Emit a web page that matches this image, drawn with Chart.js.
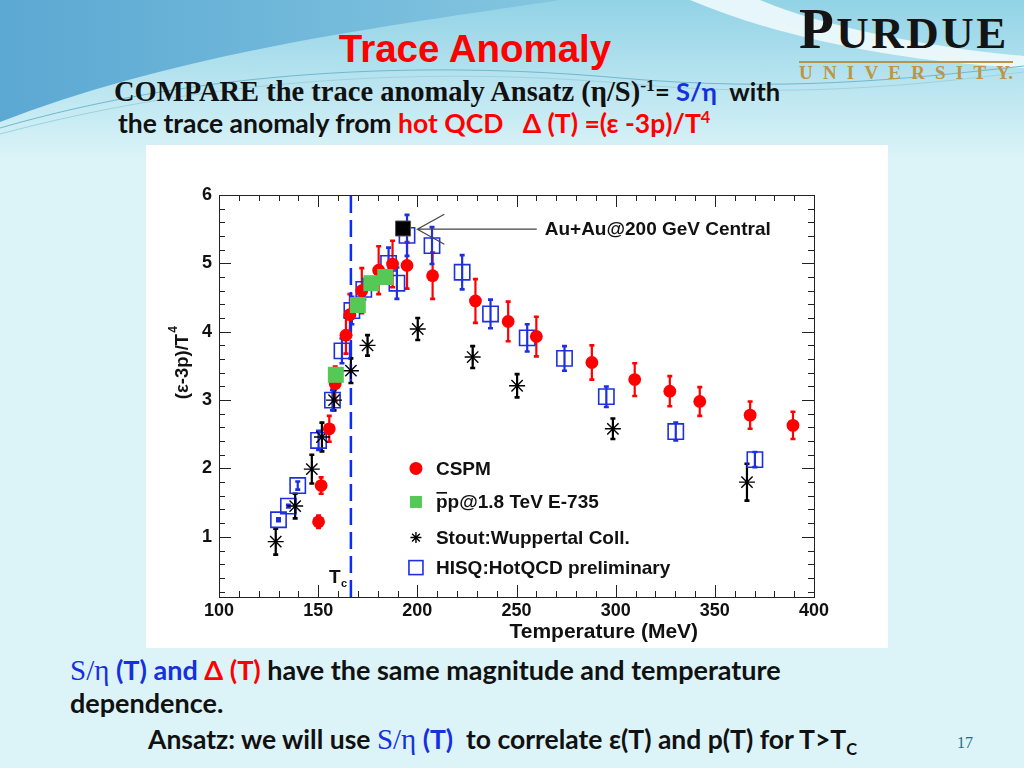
<!DOCTYPE html>
<html>
<head>
<meta charset="utf-8">
<script src="https://cdn.jsdelivr.net/npm/chart.js@4.4.1/dist/chart.umd.min.js"></script>
<style>
    body { margin: 0; width: 1024px; height: 768px; overflow: hidden; position: relative; background: #dcf4f8; }
    .bg { position: absolute; left: 0; top: 0; }
    .txt { position: absolute; white-space: nowrap; line-height: 1; }
    .cal { font-family: 'Lato', 'Open Sans', sans-serif; font-weight: bold; }
    .ser { font-family: 'Liberation Serif', 'DejaVu Serif', serif; }
    .blue { color: #1530e0; }
    .red { color: #ff0000; }
    sup, sub { font-size: 62%; line-height: 0; }
    #panel { position: absolute; left: 146px; top: 145px; width: 742px; height: 503px; background: #fff; }
    #logo { position: absolute; left: 799px; top: 6px; width: 214px; }
</style>
</head>
<body>
<svg class="bg" width="1024" height="768">
    <defs>
        <linearGradient id="topFade" x1="0" y1="0" x2="0" y2="1">
            <stop offset="0" stop-color="#92d3e6"/>
            <stop offset="1" stop-color="#dcf4f8"/>
        </linearGradient>
        <linearGradient id="blueBand" x1="0" y1="0" x2="1" y2="0">
            <stop offset="0" stop-color="#5ba8d3"/>
            <stop offset="1" stop-color="#84c6e0"/>
        </linearGradient>
    </defs>
    <rect width="1024" height="160" fill="url(#topFade)"/>
    <path d="M0,0 L560,0 C420,22 190,48 0,122 Z" fill="url(#blueBand)"/>
    <path d="M690,0 C780,38 900,62 1024,68 L1024,56 C930,48 820,26 760,0 Z" fill="#f4fbfd" opacity="0.85"/>
    <path d="M0,128 C200,70 420,60 620,78 C780,92 900,80 1024,66" fill="none" stroke="#6fb9cf" stroke-width="1"/>
    <path d="M0,134 C210,78 430,66 630,84 C790,98 910,86 1024,72" fill="none" stroke="#9ed2e0" stroke-width="1"/>
</svg>

<div class="txt" style="left:0;width:950px;text-align:center;top:27px;font:bold 38.5px 'Liberation Sans', Arial, sans-serif;color:#ff0000;">Trace Anomaly</div>

<div id="logo">
    <div class="ser" style="font-size:57px;line-height:46px;letter-spacing:2.5px;font-weight:bold;color:#141414;">P<span style="font-size:45px;">URDUE</span></div>
    <div style="height:2px;background:#b8944a;margin-top:5px;"></div>
    <div class="ser" style="display:flex;justify-content:space-between;font-weight:bold;font-size:19px;line-height:1;color:#bf9544;margin-top:0;">
        <span>U</span><span>N</span><span>I</span><span>V</span><span>E</span><span>R</span><span>S</span><span>I</span><span>T</span><span>Y.</span>
    </div>
</div>

<div class="txt ser" style="left:114px;top:78px;font-size:28.5px;font-weight:bold;color:#111;">COMPARE the trace anomaly Ansatz (η/S)<sup>-1</sup><span class="cal" style="font-size:25.5px;">= <span class="blue">S/η</span>&nbsp; with</span></div>
<div class="txt cal" style="left:118px;top:110px;font-size:26.5px;color:#111;">the trace anomaly from <span class="red">hot QCD &nbsp; Δ (T) =(ε -3p)/T<sup>4</sup></span></div>

<div id="panel"><canvas id="anomalyChart" width="742" height="503"></canvas></div>

<div class="txt cal" style="left:70px;top:656px;font-size:27px;color:#111;"><span class="ser blue" style="font-weight:normal;font-size:29px;">S/η</span><span class="blue"> (T) and </span><span class="red">Δ (T)</span> have the same magnitude and temperature</div>
<div class="txt cal" style="left:70px;top:689px;font-size:27px;color:#111;">dependence.</div>
<div class="txt cal" style="left:148px;top:725px;font-size:26.5px;color:#111;">Ansatz: we will use <span class="ser blue" style="font-weight:normal;font-size:29px;">S/η</span><span class="blue"> (T)</span>&nbsp; to correlate ε(T) and p(T) for T&gt;T<sub>C</sub></div>
<div class="txt ser" style="left:957px;top:735px;font-size:16px;color:#26707f;">17</div>

<script>
// values: temperature (MeV) vs (e-3p)/T^4
const temperatureTicks = [100, 150, 200, 250, 300, 350, 400];
const anomalyTicks = [1, 2, 3, 4, 5, 6];

const cspmT = [150.2, 151.5, 155.6, 158.6, 164, 166, 172, 180.5, 187.5, 194.8, 207.7, 229.3, 245.8, 260, 288, 309.6, 327.3, 342.4, 367.8, 389.4];
const cspmV = [1.22, 1.75, 2.58, 3.24, 3.95, 4.25, 4.6, 4.9, 4.99, 4.97, 4.82, 4.45, 4.15, 3.93, 3.55, 3.30, 3.13, 2.98, 2.78, 2.63];
const cspmErr = [0.09, 0.12, 0.19, 0.25, 0.27, 0.3, 0.33, 0.35, 0.34, 0.34, 0.34, 0.32, 0.29, 0.29, 0.25, 0.24, 0.22, 0.21, 0.2, 0.2];

const e735T = [158.9, 170, 176.8, 183.8];
const e735V = [3.37, 4.39, 4.71, 4.8];

const stoutT = [128.6, 138.4, 146.8, 151.9, 158, 166.5, 174.9, 200.2, 227.9, 250.3, 298.6, 366.2];
const stoutV = [0.93, 1.45, 1.99, 2.46, 3.0, 3.43, 3.8, 4.04, 3.63, 3.21, 2.58, 1.80];
const stoutErr = [0.19, 0.18, 0.21, 0.21, 0.15, 0.18, 0.15, 0.16, 0.16, 0.17, 0.15, 0.27];

const hisqT = [130, 135, 139.7, 150.2, 157.2, 162, 167, 173, 185.5, 189.7, 194.8, 207.4, 222.6, 236.9, 255.4, 274.2, 295.3, 330.3, 370.2];
const hisqV = [1.25, 1.45, 1.75, 2.41, 3.0, 3.72, 4.31, 4.62, 5.0, 4.71, 5.41, 5.26, 4.87, 4.26, 3.91, 3.61, 3.05, 2.54, 2.13];
const hisqErr = [0.02, 0.02, 0.06, 0.14, 0.15, 0.18, 0.2, 0.15, 0.23, 0.23, 0.3, 0.27, 0.25, 0.21, 0.2, 0.18, 0.15, 0.13, 0.11];

const auauT = [192.8];
const auauV = [5.51];

const tcT = 166.5;
const yMin = 0.12;
const yMax = 6;

const legendLabels = ['CSPM', 'pp@1.8 TeV E-735', 'Stout:Wuppertal Coll.', 'HISQ:HotQCD preliminary'];
const annotationLabel = 'Au+Au@200 GeV Central';
const xTitle = 'Temperature (MeV)';

const FONT = "'Liberation Sans', Arial, sans-serif";
const RED = '#ff0000';
const GREEN = '#55c955';
const BLUE = '#1c30e0';

function points(xs, ys) {
    return xs.map((x, i) => ({ x, y: ys[i] }));
}

function drawMarker(ctx, kind, x, y, size) {
    ctx.save();
    ctx.beginPath();
    if (kind === 'circle') {
        ctx.fillStyle = RED;
        ctx.arc(x, y, size / 2, 0, Math.PI * 2);
        ctx.fill();
    } else if (kind === 'green') {
        ctx.fillStyle = GREEN;
        ctx.fillRect(x - size / 2, y - size / 2, size, size);
    } else if (kind === 'star') {
        ctx.strokeStyle = '#000';
        ctx.lineWidth = 1.4;
        const r = size / 2;
        ctx.moveTo(x - r, y); ctx.lineTo(x + r, y);
        ctx.moveTo(x, y - r); ctx.lineTo(x, y + r);
        const d = r * Math.SQRT1_2;
        ctx.moveTo(x - d, y - d); ctx.lineTo(x + d, y + d);
        ctx.moveTo(x - d, y + d); ctx.lineTo(x + d, y - d);
        ctx.stroke();
    } else {
        ctx.strokeStyle = BLUE;
        ctx.lineWidth = 1.6;
        ctx.strokeRect(x - size / 2, y - size / 2, size, size);
    }
    ctx.restore();
}

const rootStyle = {
    id: 'rootStyle',
    beforeDatasetsDraw(chart) {
        const { ctx, scales: { x, y } } = chart;
        chart.data.datasets.forEach((ds) => {
            if (!ds.errors) {
                return;
            }
            ctx.save();
            ctx.strokeStyle = ds.errorColor;
            ds.data.forEach((p, i) => {
                const px = x.getPixelForValue(p.x);
                const top = y.getPixelForValue(p.y + ds.errors[i]);
                const bot = y.getPixelForValue(p.y - ds.errors[i]);
                ctx.lineWidth = 2.2;
                ctx.beginPath();
                ctx.moveTo(px, top);
                ctx.lineTo(px, bot);
                ctx.stroke();
                ctx.lineWidth = 2.6;
                ctx.beginPath();
                ctx.moveTo(px - 2.5, top); ctx.lineTo(px + 2.5, top);
                ctx.moveTo(px - 2.5, bot); ctx.lineTo(px + 2.5, bot);
                ctx.stroke();
            });
            ctx.restore();
        });
    },
    afterDatasetsDraw(chart) {
        const { ctx, chartArea: a, scales: { x, y } } = chart;
        ctx.save();

        // frame with inward ticks on all four sides
        ctx.strokeStyle = '#222';
        ctx.lineWidth = 1;
        ctx.strokeRect(a.left + 0.5, a.top + 0.5, a.right - a.left, a.bottom - a.top);
        ctx.beginPath();
        for (let v = 100; v <= 400; v += 10) {
            const px = Math.round(x.getPixelForValue(v)) + 0.5;
            const len = v % 50 === 0 ? 12 : 6;
            ctx.moveTo(px, a.bottom); ctx.lineTo(px, a.bottom - len);
            ctx.moveTo(px, a.top); ctx.lineTo(px, a.top + len);
        }
        for (let i = 1; i <= 30; i++) {
            const v = i / 5;
            if (v < yMin) {
                continue;
            }
            const py = Math.round(y.getPixelForValue(v)) + 0.5;
            const len = i % 5 === 0 ? 12 : 6;
            ctx.moveTo(a.left, py); ctx.lineTo(a.left + len, py);
            ctx.moveTo(a.right, py); ctx.lineTo(a.right - len, py);
        }
        ctx.stroke();

        ctx.fillStyle = '#111';
        ctx.textBaseline = 'middle';

        // axis titles
        ctx.font = `bold 21px ${FONT}`;
        ctx.textAlign = 'center';
        ctx.fillText(xTitle, x.getPixelForValue(294), a.bottom + 35);
        ctx.save();
        ctx.translate(37, y.getPixelForValue(3.55));
        ctx.rotate(-Math.PI / 2);
        ctx.font = `bold 18.5px ${FONT}`;
        const yTitle = '(ε-3p)/T';
        const w = ctx.measureText(yTitle).width;
        ctx.textAlign = 'left';
        ctx.fillText(yTitle, -w / 2 - 4, 0);
        ctx.font = `bold 12px ${FONT}`;
        ctx.fillText('4', w / 2 - 3, -9);
        ctx.restore();

        // Tc label
        ctx.font = `bold 19px ${FONT}`;
        ctx.textAlign = 'left';
        const tcX = x.getPixelForValue(tcT);
        ctx.fillText('T', tcX - 22, a.bottom - 19);
        ctx.font = `bold 11px ${FONT}`;
        ctx.fillText('c', tcX - 10, a.bottom - 13);

        // annotation arrow
        const tipX = x.getPixelForValue(200);
        const tipY = y.getPixelForValue(5.5);
        const tailX = x.getPixelForValue(260.2);
        ctx.strokeStyle = '#444';
        ctx.lineWidth = 1.2;
        ctx.beginPath();
        ctx.moveTo(tailX, tipY); ctx.lineTo(tipX, tipY);
        ctx.moveTo(tipX + 27, tipY - 15); ctx.lineTo(tipX, tipY); ctx.lineTo(tipX + 27, tipY + 15);
        ctx.stroke();
        ctx.font = `bold 19px ${FONT}`;
        ctx.fillText(annotationLabel, tailX + 8, tipY + 1);

        // legend
        const kinds = ['circle', 'green', 'star', 'open'];
        const sizes = [13, 12, 11, 14];
        const rows = [2.0, 1.51, 0.99, 0.55];
        const markX = x.getPixelForValue(199.3);
        legendLabels.forEach((label, i) => {
            const ry = y.getPixelForValue(rows[i]);
            drawMarker(ctx, kinds[i], markX, ry, sizes[i]);
            ctx.font = `bold 19px ${FONT}`;
            ctx.fillStyle = '#111';
            ctx.fillText(label, markX + 20, ry + 1);
            if (i === 1) {
                const pw = ctx.measureText('p').width;
                ctx.fillRect(markX + 20.5, ry - 10, pw - 1, 1.7);
            }
        });

        ctx.restore();
    }
};

const chart = new Chart(document.getElementById('anomalyChart'), {
    type: 'scatter',
    data: {
        datasets: [
            {
                label: legendLabels[0],
                data: points(cspmT, cspmV),
                errors: cspmErr,
                errorColor: RED,
                pointStyle: 'circle',
                pointRadius: 6.4,
                backgroundColor: RED,
                borderColor: RED,
                borderWidth: 0,
                order: 2,
            },
            {
                label: legendLabels[1],
                data: points(e735T, e735V),
                pointStyle: 'rect',
                pointRadius: 11.3,
                backgroundColor: GREEN,
                borderColor: GREEN,
                borderWidth: 0,
                order: 1,
            },
            {
                label: legendLabels[2],
                data: points(stoutT, stoutV),
                errors: stoutErr,
                errorColor: '#000',
                pointStyle: 'star',
                pointRadius: 8,
                backgroundColor: '#000',
                borderColor: '#000',
                borderWidth: 1.4,
                order: 3,
            },
            {
                label: legendLabels[3],
                data: points(hisqT, hisqV),
                errors: hisqErr,
                errorColor: BLUE,
                pointStyle: 'rect',
                pointRadius: 10.8,
                backgroundColor: 'rgba(0,0,0,0)',
                borderColor: BLUE,
                borderWidth: 1.6,
                order: 4,
            },
            {
                label: annotationLabel,
                data: points(auauT, auauV),
                pointStyle: 'rect',
                pointRadius: 10.6,
                backgroundColor: '#000',
                borderColor: '#555',
                borderWidth: 1,
                order: 0,
            },
            {
                type: 'line',
                label: 'Tc',
                data: [{ x: tcT, y: yMin }, { x: tcT, y: yMax }],
                borderColor: '#0a2cff',
                borderWidth: 2.5,
                borderDash: [17, 7],
                pointRadius: 0,
                order: 5,
            }
        ]
    },
    options: {
        responsive: false,
        animation: false,
        layout: { padding: { top: 50, right: 74, left: 0, bottom: 0 } },
        plugins: {
            legend: { display: false },
            tooltip: { enabled: false }
        },
        scales: {
            x: {
                type: 'linear',
                min: 100,
                max: 400,
                grid: { display: false, drawTicks: false },
                border: { display: false },
                ticks: { color: '#111', padding: 3, font: { family: FONT, size: 18, weight: 'bold' } },
                afterBuildTicks: (scale) => { scale.ticks = temperatureTicks.map((value) => ({ value })); },
                afterFit: (scale) => { scale.height = 51; }
            },
            y: {
                min: yMin,
                max: yMax,
                grid: { display: false, drawTicks: false },
                border: { display: false },
                ticks: { color: '#111', padding: 7, font: { family: FONT, size: 18, weight: 'bold' } },
                afterBuildTicks: (scale) => { scale.ticks = anomalyTicks.map((value) => ({ value })); },
                afterFit: (scale) => { scale.width = 73; }
            }
        }
    },
    plugins: [rootStyle]
});
</script>
</body>
</html>
